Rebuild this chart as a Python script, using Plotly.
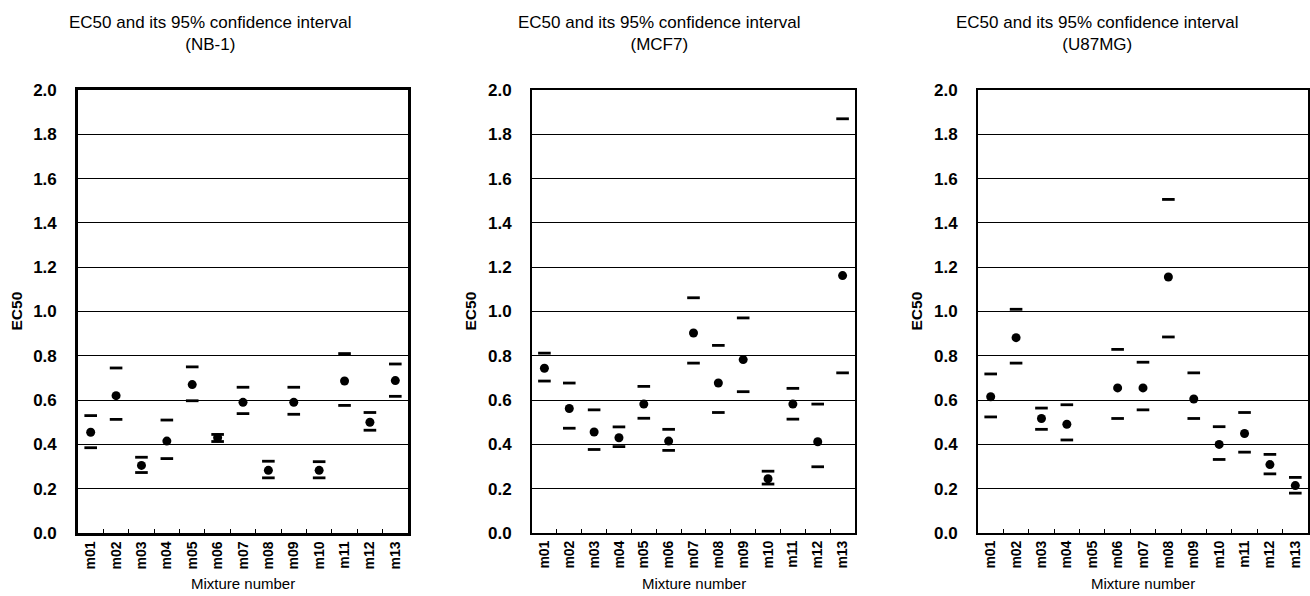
import plotly.graph_objects as go

mixtures = ["m01", "m02", "m03", "m04", "m05", "m06", "m07", "m08", "m09", "m10", "m11", "m12", "m13"]
y_ticks = [0.0, 0.2, 0.4, 0.6, 0.8, 1.0, 1.2, 1.4, 1.6, 1.8, 2.0]
y_tick_text = ["0.0", "0.2", "0.4", "0.6", "0.8", "1.0", "1.2", "1.4", "1.6", "1.8", "2.0"]

nb1_ec50 = [0.455, 0.62, 0.305, 0.415, 0.67, 0.43, 0.59, 0.283, 0.59, 0.283, 0.686, 0.50, 0.688]
nb1_upper = [0.53, 0.745, 0.342, 0.51, 0.75, 0.445, 0.658, 0.324, 0.658, 0.322, 0.81, 0.544, 0.763]
nb1_lower = [0.385, 0.513, 0.273, 0.336, 0.597, 0.413, 0.539, 0.249, 0.536, 0.249, 0.576, 0.464, 0.617]

mcf7_ec50 = [0.744, 0.562, 0.456, 0.43, 0.582, 0.415, 0.903, 0.677, 0.783, 0.245, 0.582, 0.412, 1.162]
mcf7_upper = [0.812, 0.677, 0.556, 0.479, 0.662, 0.468, 1.062, 0.847, 0.971, 0.279, 0.653, 0.582, 1.87]
mcf7_lower = [0.686, 0.473, 0.377, 0.39, 0.518, 0.373, 0.767, 0.544, 0.638, 0.221, 0.514, 0.299, 0.723]

u87_ec50 = [0.615, 0.882, 0.517, 0.491, None, 0.655, 0.655, 1.156, 0.605, 0.40, 0.449, 0.309, 0.214]
u87_upper = [0.718, 1.01, 0.564, 0.579, None, 0.829, 0.771, 1.506, 0.723, 0.48, 0.544, 0.355, 0.251]
u87_lower = [0.524, 0.767, 0.468, 0.42, None, 0.517, 0.556, 0.885, 0.517, 0.332, 0.365, 0.267, 0.18]

cell_lines = ["NB-1", "MCF7", "U87MG"]
title_line = "EC50 and its 95% confidence interval"
y_title = "EC50"
x_title = "Mixture number"

panels = [
    (nb1_ec50, nb1_upper, nb1_lower),
    (mcf7_ec50, mcf7_upper, mcf7_lower),
    (u87_ec50, u87_upper, u87_lower),
]

W, H = 1310, 596
# pixel layout of the three plot areas
x_px = [(78, 408), (532, 855), (978, 1308)]
y_top, y_bot = 90, 533
title_cx = [210, 659, 1097]
line_w = [2.6, 2.0, 2.0]

FONT = "Liberation Sans, Arial, sans-serif"
fig = go.Figure()
layout = dict(
    width=W, height=H,
    margin=dict(l=0, r=0, t=0, b=0),
    paper_bgcolor="white", plot_bgcolor="white",
    showlegend=False,
    font=dict(family=FONT, color="black"),
    annotations=[],
)

for i, (ec50, upper, lower) in enumerate(panels):
    xs = "x" if i == 0 else f"x{i+1}"
    ys = "y" if i == 0 else f"y{i+1}"
    xkey = "xaxis" if i == 0 else f"xaxis{i+1}"
    ykey = "yaxis" if i == 0 else f"yaxis{i+1}"
    for vals in (upper, lower):
        fig.add_trace(go.Scatter(
            x=mixtures, y=vals, mode="markers", xaxis=xs, yaxis=ys,
            marker=dict(symbol="line-ew", size=9, color="black",
                        line=dict(color="black", width=2.8)),
            hoverinfo="x+y",
        ))
    fig.add_trace(go.Scatter(
        x=mixtures, y=ec50, mode="markers", xaxis=xs, yaxis=ys,
        marker=dict(symbol="circle", size=9, color="black"),
        hoverinfo="x+y",
    ))
    x0, x1 = x_px[i]
    layout[xkey] = dict(
        domain=[x0 / W, x1 / W], anchor=ys, type="category",
        categoryorder="array", categoryarray=mixtures,
        range=[-0.5, len(mixtures) - 0.5],
        showline=True, linecolor="black", linewidth=line_w[i], mirror=True,
        ticks="inside", tickson="boundaries", ticklen=4, tickwidth=1.2, tickcolor="black",
        tickangle=-90, tickfont=dict(family=FONT, size=14, color="black", weight="bold"),
        showgrid=False, zeroline=False, automargin=False, fixedrange=True,
    )
    layout[ykey] = dict(
        domain=[1 - y_bot / H, 1 - y_top / H], anchor=xs,
        range=[0, 2.0], tickmode="array", tickvals=y_ticks, ticktext=y_tick_text,
        showline=True, linecolor="black", linewidth=line_w[i], mirror=True,
        ticks="", ticklabelstandoff=15,
        tickfont=dict(family=FONT, size=17, color="black", weight="bold"),
        showgrid=True, gridcolor="black", gridwidth=1.4,
        zeroline=False, automargin=False, fixedrange=True,
    )
    layout["annotations"].append(dict(
        text=f"{title_line}<br>({cell_lines[i]})", xref="paper", yref="paper",
        x=title_cx[i] / W, y=1 - 11 / H, xanchor="center", yanchor="top",
        showarrow=False, align="center",
        font=dict(family=FONT, size=17, color="black"),
    ))
    layout["annotations"].append(dict(
        text=y_title, xref="paper", yref="paper",
        x=(x0 - 62) / W, y=1 - ((y_top + y_bot) / 2) / H,
        xanchor="center", yanchor="middle", textangle=-90, showarrow=False,
        font=dict(family=FONT, size=15.5, color="black", weight="bold"),
    ))
    layout["annotations"].append(dict(
        text=x_title, xref="paper", yref="paper",
        x=((x0 + x1) / 2) / W, y=1 - 583 / H,
        xanchor="center", yanchor="middle", showarrow=False,
        font=dict(family=FONT, size=15, color="black"),
    ))

fig.update_layout(**layout)
fig.write_html("out.html")
